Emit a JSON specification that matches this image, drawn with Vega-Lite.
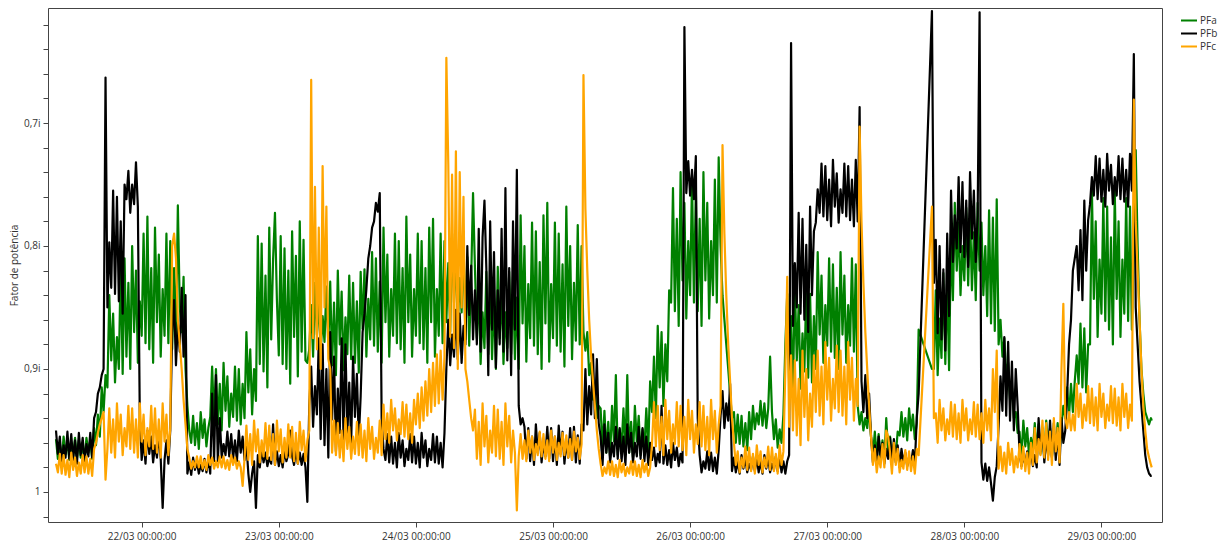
{
"$schema": "https://vega.github.io/schema/vega-lite/v6.json",
"width": 1114, "height": 514,
"autosize": {"type": "none"},
"padding": {"left": 48, "top": 8, "right": 68, "bottom": 24},
"config": {"font": "Open Sans", "view": {"stroke": "#444", "strokeWidth": 1},
 "axis": {"domain": false, "grid": false, "tickColor": "#444", "labelColor": "#333", "labelFontSize": 10, "tickSize": 5, "titleColor": "#333", "titleFontSize": 10, "titleFontWeight": "normal"}},
"data": {"values": [
{"t":9,"a":0.957,"b":0.95,"c":0.977},{"t":9.33,"a":0.973,"b":0.969,"c":0.984},{"t":9.67,"a":0.961,"b":0.955,"c":0.969},{"t":10,"a":0.975,"b":0.976,"c":0.985},
{"t":10.33,"a":0.955,"b":0.962,"c":0.97},{"t":10.67,"a":0.969,"b":0.972,"c":0.986},{"t":11,"a":0.959,"b":0.951,"c":0.974},{"t":11.33,"a":0.974,"b":0.973,"c":0.988},
{"t":11.67,"a":0.964,"b":0.953,"c":0.968},{"t":12,"a":0.971,"b":0.974,"c":0.982},{"t":12.33,"a":0.956,"b":0.958,"c":0.972},{"t":12.67,"a":0.972,"b":0.977,"c":0.987},
{"t":13,"a":0.958,"b":0.952,"c":0.976},{"t":13.33,"a":0.972,"b":0.97,"c":0.985},{"t":13.67,"a":0.96,"b":0.956,"c":0.97},{"t":14,"a":0.974,"b":0.975,"c":0.984},
{"t":14.33,"a":0.956,"b":0.961,"c":0.971},{"t":14.67,"a":0.968,"b":0.971,"c":0.985},{"t":15,"a":0.958,"b":0.952,"c":0.973},{"t":15.33,"a":0.973,"b":0.972,"c":0.987},
{"t":15.67,"a":0.948,"b":0.94,"c":0.965},{"t":16,"a":0.962,"b":0.935,"c":0.96},{"t":16.33,"a":0.937,"b":0.92,"c":0.952},{"t":16.67,"a":0.955,"b":0.915,"c":0.945},
{"t":17,"a":0.915,"b":0.905,"c":0.94},{"t":17.33,"a":0.935,"b":0.9,"c":0.935},{"t":17.67,"a":0.905,"b":0.663,"c":0.99},{"t":18,"a":0.915,"b":0.85,"c":0.965},
{"t":18.33,"a":0.84,"b":0.797,"c":0.932},{"t":18.67,"a":0.893,"b":0.834,"c":0.968},{"t":19,"a":0.855,"b":0.755,"c":0.941},{"t":19.33,"a":0.911,"b":0.839,"c":0.972},
{"t":19.67,"a":0.874,"b":0.76,"c":0.928},{"t":20,"a":0.9,"b":0.845,"c":0.959},{"t":20.33,"a":0.812,"b":0.78,"c":0.937},{"t":20.67,"a":0.904,"b":0.855,"c":0.97},
{"t":21,"a":0.81,"b":0.75,"c":0.948},{"t":21.33,"a":0.89,"b":0.762,"c":0.963},{"t":21.67,"a":0.83,"b":0.739,"c":0.93},{"t":22,"a":0.9,"b":0.773,"c":0.965},
{"t":22.33,"a":0.8,"b":0.75,"c":0.932},{"t":22.67,"a":0.87,"b":0.766,"c":0.968},{"t":23,"a":0.82,"b":0.732,"c":0.941},{"t":23.33,"a":0.895,"b":0.768,"c":0.972},
{"t":23.67,"a":0.845,"b":0.94,"c":0.928},{"t":24,"a":0.873,"b":0.974,"c":0.959},{"t":24.33,"a":0.79,"b":0.958,"c":0.937},{"t":24.67,"a":0.879,"b":0.977,"c":0.97},
{"t":25,"a":0.776,"b":0.95,"c":0.948},{"t":25.33,"a":0.884,"b":0.969,"c":0.963},{"t":25.67,"a":0.818,"b":0.955,"c":0.93},{"t":26,"a":0.895,"b":0.976,"c":0.965},
{"t":26.33,"a":0.785,"b":0.962,"c":0.932},{"t":26.67,"a":0.862,"b":0.972,"c":0.968},{"t":27,"a":0.807,"b":0.951,"c":0.941},{"t":27.33,"a":0.89,"b":0.973,"c":0.972},
{"t":27.67,"a":0.835,"b":1.013,"c":0.928},{"t":28,"a":0.873,"b":0.974,"c":0.959},{"t":28.33,"a":0.79,"b":0.958,"c":0.937},{"t":28.67,"a":0.879,"b":0.977,"c":0.97},
{"t":29,"a":0.796,"b":0.95,"c":0.948},{"t":29.33,"a":0.884,"b":0.87,"c":0.8},{"t":29.67,"a":0.818,"b":0.844,"c":0.79},{"t":30,"a":0.88,"b":0.897,"c":0.81},
{"t":30.33,"a":0.767,"b":0.862,"c":0.86},{"t":30.67,"a":0.85,"b":0.886,"c":0.88},{"t":31,"a":0.87,"b":0.834,"c":0.9},{"t":31.33,"a":0.825,"b":0.89,"c":0.925},
{"t":31.67,"a":0.9,"b":0.84,"c":0.945},{"t":32,"a":0.93,"b":0.985,"c":0.965},{"t":32.33,"a":0.95,"b":0.976,"c":0.972},{"t":32.67,"a":0.96,"b":0.986,"c":0.981},
{"t":33,"a":0.938,"b":0.972,"c":0.975},{"t":33.33,"a":0.962,"b":0.982,"c":0.98},{"t":33.67,"a":0.944,"b":0.975,"c":0.971},{"t":34,"a":0.965,"b":0.985,"c":0.98},
{"t":34.33,"a":0.935,"b":0.978,"c":0.971},{"t":34.67,"a":0.956,"b":0.983,"c":0.981},{"t":35,"a":0.941,"b":0.973,"c":0.974},{"t":35.33,"a":0.963,"b":0.984,"c":0.982},
{"t":35.67,"a":0.948,"b":0.973,"c":0.97},{"t":36,"a":0.939,"b":0.985,"c":0.978},{"t":36.33,"a":0.898,"b":0.92,"c":0.972},{"t":36.67,"a":0.942,"b":0.975,"c":0.981},
{"t":37,"a":0.9,"b":0.905,"c":0.975},{"t":37.33,"a":0.945,"b":0.975,"c":0.98},{"t":37.67,"a":0.912,"b":0.94,"c":0.971},{"t":38,"a":0.95,"b":0.972,"c":0.98},
{"t":38.33,"a":0.895,"b":0.961,"c":0.971},{"t":38.67,"a":0.934,"b":0.97,"c":0.981},{"t":39,"a":0.906,"b":0.951,"c":0.974},{"t":39.33,"a":0.947,"b":0.971,"c":0.982},
{"t":39.67,"a":0.92,"b":0.953,"c":0.97},{"t":40,"a":0.939,"b":0.973,"c":0.978},{"t":40.33,"a":0.898,"b":0.958,"c":0.972},{"t":40.67,"a":0.942,"b":0.975,"c":0.981},
{"t":41,"a":0.9,"b":0.95,"c":0.975},{"t":41.33,"a":0.945,"b":0.968,"c":0.98},{"t":41.67,"a":0.912,"b":0.955,"c":0.995},{"t":42,"a":0.94,"b":0.974,"c":0.973},
{"t":42.33,"a":0.87,"b":0.961,"c":0.946},{"t":42.67,"a":0.919,"b":0.985,"c":0.974},{"t":43,"a":0.884,"b":1.0,"c":0.953},{"t":43.33,"a":0.937,"b":0.985,"c":0.978},
{"t":43.67,"a":0.9,"b":0.975,"c":0.942},{"t":44,"a":0.926,"b":1.013,"c":0.967},{"t":44.33,"a":0.792,"b":0.97,"c":0.949},{"t":44.67,"a":0.896,"b":0.98,"c":0.976},
{"t":45,"a":0.798,"b":0.965,"c":0.958},{"t":45.33,"a":0.902,"b":0.976,"c":0.971},{"t":45.67,"a":0.824,"b":0.968,"c":0.944},{"t":46,"a":0.915,"b":0.979,"c":0.973},
{"t":46.33,"a":0.785,"b":0.972,"c":0.946},{"t":46.67,"a":0.876,"b":0.977,"c":0.974},{"t":47,"a":0.811,"b":0.945,"c":0.953},{"t":47.33,"a":0.773,"b":0.978,"c":0.978},
{"t":47.67,"a":0.844,"b":0.967,"c":0.942},{"t":48,"a":0.889,"b":0.979,"c":0.967},{"t":48.33,"a":0.792,"b":0.97,"c":0.949},{"t":48.67,"a":0.896,"b":0.98,"c":0.976},
{"t":49,"a":0.802,"b":0.966,"c":0.956},{"t":49.33,"a":0.9,"b":0.975,"c":0.972},{"t":49.67,"a":0.82,"b":0.969,"c":0.945},{"t":50,"a":0.912,"b":0.95,"c":0.972},
{"t":50.33,"a":0.788,"b":0.971,"c":0.947},{"t":50.67,"a":0.874,"b":0.978,"c":0.975},{"t":51,"a":0.808,"b":0.966,"c":0.952},{"t":51.33,"a":0.906,"b":0.977,"c":0.977},
{"t":51.67,"a":0.78,"b":0.968,"c":0.943},{"t":52,"a":0.886,"b":0.978,"c":0.966},{"t":52.33,"a":0.795,"b":0.969,"c":0.95},{"t":52.67,"a":0.893,"b":0.98,"c":0.975},
{"t":53,"a":0.895,"b":1.008,"c":0.958},{"t":53.33,"a":0.884,"b":0.93,"c":0.95},{"t":53.67,"a":0.848,"b":0.898,"c":0.665},{"t":54,"a":0.89,"b":0.947,"c":0.875},
{"t":54.33,"a":0.83,"b":0.914,"c":0.752},{"t":54.67,"a":0.872,"b":0.937,"c":0.884},{"t":55,"a":0.842,"b":0.875,"c":0.785},{"t":55.33,"a":0.887,"b":0.957,"c":0.9},
{"t":55.67,"a":0.857,"b":0.88,"c":0.735},{"t":56,"a":0.878,"b":0.962,"c":0.85},{"t":56.33,"a":0.833,"b":0.9,"c":0.768},{"t":56.67,"a":0.881,"b":0.972,"c":0.892},
{"t":57,"a":0.829,"b":0.87,"c":0.9},{"t":57.33,"a":0.897,"b":0.941,"c":0.968},{"t":57.67,"a":0.846,"b":0.89,"c":0.942},{"t":58,"a":0.905,"b":0.967,"c":0.97},
{"t":58.33,"a":0.82,"b":0.916,"c":0.944},{"t":58.67,"a":0.88,"b":0.952,"c":0.972},{"t":59,"a":0.837,"b":0.875,"c":0.95},{"t":59.33,"a":0.901,"b":0.957,"c":0.975},
{"t":59.67,"a":0.858,"b":0.88,"c":0.94},{"t":60,"a":0.888,"b":0.953,"c":0.965},{"t":60.33,"a":0.824,"b":0.911,"c":0.947},{"t":60.67,"a":0.892,"b":0.96,"c":0.973},
{"t":61,"a":0.83,"b":0.89,"c":0.955},{"t":61.33,"a":0.895,"b":0.939,"c":0.969},{"t":61.67,"a":0.845,"b":0.904,"c":0.943},{"t":62,"a":0.903,"b":0.957,"c":0.97},
{"t":62.33,"a":0.821,"b":0.922,"c":0.945},{"t":62.67,"a":0.867,"b":0.87,"c":0.972},{"t":63,"a":0.819,"b":0.855,"c":0.95},{"t":63.33,"a":0.89,"b":0.835,"c":0.975},
{"t":63.67,"a":0.843,"b":0.81,"c":0.94},{"t":64,"a":0.876,"b":0.8,"c":0.965},{"t":64.33,"a":0.805,"b":0.785,"c":0.947},{"t":64.67,"a":0.881,"b":0.78,"c":0.973},
{"t":65,"a":0.81,"b":0.765,"c":0.956},{"t":65.33,"a":0.886,"b":0.772,"c":0.968},{"t":65.67,"a":0.829,"b":0.757,"c":0.942},{"t":66,"a":0.895,"b":0.94,"c":0.97},
{"t":66.33,"a":0.785,"b":0.965,"c":0.929},{"t":66.67,"a":0.862,"b":0.974,"c":0.957},{"t":67,"a":0.807,"b":0.953,"c":0.936},{"t":67.33,"a":0.89,"b":0.976,"c":0.96},
{"t":67.67,"a":0.835,"b":0.955,"c":0.925},{"t":68,"a":0.873,"b":0.977,"c":0.95},{"t":68.33,"a":0.79,"b":0.96,"c":0.932},{"t":68.67,"a":0.879,"b":0.98,"c":0.958},
{"t":69,"a":0.796,"b":0.952,"c":0.941},{"t":69.33,"a":0.884,"b":0.972,"c":0.953},{"t":69.67,"a":0.818,"b":0.958,"c":0.927},{"t":70,"a":0.895,"b":0.979,"c":0.955},
{"t":70.33,"a":0.776,"b":0.965,"c":0.929},{"t":70.67,"a":0.862,"b":0.974,"c":0.957},{"t":71,"a":0.807,"b":0.953,"c":0.936},{"t":71.33,"a":0.89,"b":0.976,"c":0.96},
{"t":71.67,"a":0.835,"b":0.955,"c":0.925},{"t":72,"a":0.873,"b":0.977,"c":0.945},{"t":72.33,"a":0.79,"b":0.96,"c":0.92},{"t":72.67,"a":0.879,"b":0.98,"c":0.948},
{"t":73,"a":0.796,"b":0.952,"c":0.915},{"t":73.33,"a":0.884,"b":0.972,"c":0.942},{"t":73.67,"a":0.818,"b":0.958,"c":0.91},{"t":74,"a":0.895,"b":0.979,"c":0.938},
{"t":74.33,"a":0.785,"b":0.965,"c":0.9},{"t":74.67,"a":0.862,"b":0.974,"c":0.935},{"t":75,"a":0.778,"b":0.953,"c":0.895},{"t":75.33,"a":0.89,"b":0.976,"c":0.93},
{"t":75.67,"a":0.835,"b":0.955,"c":0.888},{"t":76,"a":0.873,"b":0.977,"c":0.928},{"t":76.33,"a":0.79,"b":0.96,"c":0.885},{"t":76.67,"a":0.879,"b":0.98,"c":0.925},
{"t":77,"a":0.796,"b":0.952,"c":0.89},{"t":77.33,"a":0.862,"b":0.9,"c":0.647},{"t":77.67,"a":0.814,"b":0.86,"c":0.734},{"t":78,"a":0.87,"b":0.897,"c":0.874},
{"t":78.33,"a":0.79,"b":0.872,"c":0.742},{"t":78.67,"a":0.846,"b":0.89,"c":0.883},{"t":79,"a":0.806,"b":0.852,"c":0.723},{"t":79.33,"a":0.866,"b":0.892,"c":0.9},
{"t":79.67,"a":0.826,"b":0.855,"c":0.74},{"t":80,"a":0.854,"b":0.895,"c":0.85},{"t":80.33,"a":0.794,"b":0.865,"c":0.76},{"t":80.67,"a":0.876,"b":0.88,"c":0.9},
{"t":81,"a":0.809,"b":0.8,"c":0.91},{"t":81.33,"a":0.881,"b":0.856,"c":0.925},{"t":81.67,"a":0.827,"b":0.816,"c":0.94},{"t":82,"a":0.757,"b":0.876,"c":0.95},
{"t":82.33,"a":0.817,"b":0.836,"c":0.933},{"t":82.67,"a":0.875,"b":0.88,"c":0.973},{"t":83,"a":0.834,"b":0.786,"c":0.943},{"t":83.33,"a":0.896,"b":0.886,"c":0.978},
{"t":83.67,"a":0.854,"b":0.793,"c":0.928},{"t":84,"a":0.883,"b":0.763,"c":0.963},{"t":84.33,"a":0.821,"b":0.818,"c":0.938},{"t":84.67,"a":0.888,"b":0.905,"c":0.976},
{"t":85,"a":0.825,"b":0.78,"c":0.95},{"t":85.33,"a":0.892,"b":0.868,"c":0.968},{"t":85.67,"a":0.842,"b":0.805,"c":0.93},{"t":86,"a":0.9,"b":0.899,"c":0.971},
{"t":86.33,"a":0.817,"b":0.836,"c":0.933},{"t":86.67,"a":0.875,"b":0.88,"c":0.973},{"t":87,"a":0.834,"b":0.786,"c":0.943},{"t":87.33,"a":0.896,"b":0.886,"c":0.978},
{"t":87.67,"a":0.854,"b":0.753,"c":0.928},{"t":88,"a":0.883,"b":0.893,"c":0.963},{"t":88.33,"a":0.821,"b":0.818,"c":0.938},{"t":88.67,"a":0.888,"b":0.905,"c":0.976},
{"t":89,"a":0.825,"b":0.78,"c":0.95},{"t":89.33,"a":0.892,"b":0.868,"c":0.968},{"t":89.67,"a":0.842,"b":0.738,"c":1.015},{"t":90,"a":0.9,"b":0.93,"c":0.971},
{"t":90.33,"a":0.775,"b":0.945,"c":0.953},{"t":90.67,"a":0.863,"b":0.94,"c":0.973},{"t":91,"a":0.8,"b":0.947,"c":0.958},{"t":91.33,"a":0.894,"b":0.973,"c":0.975},
{"t":91.67,"a":0.831,"b":0.948,"c":0.95},{"t":92,"a":0.875,"b":0.975,"c":0.968},{"t":92.33,"a":0.781,"b":0.955,"c":0.955},{"t":92.67,"a":0.881,"b":0.978,"c":0.974},
{"t":93,"a":0.788,"b":0.945,"c":0.961},{"t":93.33,"a":0.888,"b":0.968,"c":0.97},{"t":93.67,"a":0.813,"b":0.952,"c":0.951},{"t":94,"a":0.9,"b":0.976,"c":0.971},
{"t":94.33,"a":0.775,"b":0.96,"c":0.953},{"t":94.67,"a":0.863,"b":0.971,"c":0.973},{"t":95,"a":0.765,"b":0.947,"c":0.958},{"t":95.33,"a":0.894,"b":0.973,"c":0.975},
{"t":95.67,"a":0.831,"b":0.948,"c":0.95},{"t":96,"a":0.875,"b":0.975,"c":0.968},{"t":96.33,"a":0.781,"b":0.955,"c":0.955},{"t":96.67,"a":0.881,"b":0.978,"c":0.974},
{"t":97,"a":0.79,"b":0.946,"c":0.96},{"t":97.33,"a":0.886,"b":0.969,"c":0.971},{"t":97.67,"a":0.815,"b":0.951,"c":0.952},{"t":98,"a":0.898,"b":0.977,"c":0.97},
{"t":98.33,"a":0.768,"b":0.959,"c":0.954},{"t":98.67,"a":0.865,"b":0.972,"c":0.972},{"t":99,"a":0.8,"b":0.948,"c":0.957},{"t":99.33,"a":0.892,"b":0.974,"c":0.974},
{"t":99.67,"a":0.83,"b":0.947,"c":0.951},{"t":100,"a":0.877,"b":0.976,"c":0.967},{"t":100.33,"a":0.783,"b":0.954,"c":0.956},{"t":100.67,"a":0.88,"b":0.977,"c":0.973},
{"t":101,"a":0.8,"b":0.945,"c":0.961},{"t":101.33,"a":0.87,"b":0.95,"c":0.661},{"t":101.67,"a":0.885,"b":0.9,"c":0.77},{"t":102,"a":0.87,"b":0.945,"c":0.82},
{"t":102.33,"a":0.905,"b":0.914,"c":0.86},{"t":102.67,"a":0.895,"b":0.937,"c":0.89},{"t":103,"a":0.925,"b":0.888,"c":0.91},{"t":103.33,"a":0.915,"b":0.94,"c":0.93},
{"t":103.67,"a":0.94,"b":0.892,"c":0.95},{"t":104,"a":0.93,"b":0.944,"c":0.965},{"t":104.33,"a":0.932,"b":0.955,"c":0.977},{"t":104.67,"a":0.966,"b":0.978,"c":0.987},
{"t":105,"a":0.934,"b":0.945,"c":0.98},{"t":105.33,"a":0.968,"b":0.968,"c":0.985},{"t":105.67,"a":0.943,"b":0.952,"c":0.975},{"t":106,"a":0.972,"b":0.976,"c":0.986},
{"t":106.33,"a":0.93,"b":0.96,"c":0.975},{"t":106.67,"a":0.959,"b":0.971,"c":0.987},{"t":107,"a":0.905,"b":0.947,"c":0.978},{"t":107.33,"a":0.97,"b":0.973,"c":0.988},
{"t":107.67,"a":0.949,"b":0.948,"c":0.974},{"t":108,"a":0.964,"b":0.975,"c":0.984},{"t":108.33,"a":0.932,"b":0.955,"c":0.977},{"t":108.67,"a":0.966,"b":0.978,"c":0.987},
{"t":109,"a":0.905,"b":0.945,"c":0.98},{"t":109.33,"a":0.968,"b":0.968,"c":0.985},{"t":109.67,"a":0.943,"b":0.952,"c":0.975},{"t":110,"a":0.972,"b":0.976,"c":0.986},
{"t":110.33,"a":0.93,"b":0.96,"c":0.975},{"t":110.67,"a":0.959,"b":0.971,"c":0.987},{"t":111,"a":0.938,"b":0.947,"c":0.978},{"t":111.33,"a":0.97,"b":0.973,"c":0.988},
{"t":111.67,"a":0.949,"b":0.948,"c":0.974},{"t":112,"a":0.964,"b":0.975,"c":0.984},{"t":112.33,"a":0.932,"b":0.955,"c":0.977},{"t":112.67,"a":0.966,"b":0.978,"c":0.987},
{"t":113,"a":0.91,"b":0.96,"c":0.98},{"t":113.33,"a":0.935,"b":0.974,"c":0.961},{"t":113.67,"a":0.89,"b":0.964,"c":0.927},{"t":114,"a":0.94,"b":0.979,"c":0.963},
{"t":114.33,"a":0.865,"b":0.969,"c":0.93},{"t":114.67,"a":0.915,"b":0.976,"c":0.966},{"t":115,"a":0.87,"b":0.93,"c":0.939},{"t":115.33,"a":0.93,"b":0.977,"c":0.97},
{"t":115.67,"a":0.88,"b":0.962,"c":0.925},{"t":116,"a":0.91,"b":0.978,"c":0.957},{"t":116.33,"a":0.836,"b":0.966,"c":0.934},{"t":116.67,"a":0.846,"b":0.98,"c":0.968},
{"t":117,"a":0.753,"b":0.96,"c":0.945},{"t":117.33,"a":0.853,"b":0.974,"c":0.961},{"t":117.67,"a":0.778,"b":0.964,"c":0.927},{"t":118,"a":0.865,"b":0.979,"c":0.963},
{"t":118.33,"a":0.74,"b":0.969,"c":0.93},{"t":118.67,"a":0.828,"b":0.976,"c":0.966},{"t":119,"a":0.765,"b":0.622,"c":0.939},{"t":119.33,"a":0.859,"b":0.757,"c":0.97},
{"t":119.67,"a":0.796,"b":0.731,"c":0.925},{"t":120,"a":0.84,"b":0.759,"c":0.957},{"t":120.33,"a":0.746,"b":0.738,"c":0.934},{"t":120.67,"a":0.846,"b":0.762,"c":0.968},
{"t":121,"a":0.753,"b":0.727,"c":0.945},{"t":121.33,"a":0.853,"b":0.94,"c":0.961},{"t":121.67,"a":0.778,"b":0.97,"c":0.927},{"t":122,"a":0.865,"b":0.984,"c":0.963},
{"t":122.33,"a":0.74,"b":0.975,"c":0.93},{"t":122.67,"a":0.828,"b":0.981,"c":0.966},{"t":123,"a":0.765,"b":0.967,"c":0.939},{"t":123.33,"a":0.859,"b":0.982,"c":0.97},
{"t":123.67,"a":0.796,"b":0.968,"c":0.925},{"t":124,"a":0.84,"b":0.983,"c":0.957},{"t":124.33,"a":0.746,"b":0.972,"c":0.934},{"t":124.67,"a":0.846,"b":0.985,"c":0.968},
{"t":125,"a":0.728,"b":0.966,"c":0.945},{"t":125.33,"a":0.8,"b":0.938,"c":0.93},{"t":125.67,"a":0.84,"b":0.918,"c":0.718},{"t":126,"a":0.86,"b":0.948,"c":0.79},
{"t":126.33,"a":0.88,"b":0.928,"c":0.84},{"t":126.67,"a":0.9,"b":0.942,"c":0.88},{"t":127,"a":0.92,"b":0.912,"c":0.91},{"t":127.33,"a":0.94,"b":0.983,"c":0.94},
{"t":127.67,"a":0.935,"b":0.972,"c":0.96},{"t":128,"a":0.96,"b":0.984,"c":0.978},{"t":128.33,"a":0.937,"b":0.975,"c":0.967},{"t":128.67,"a":0.961,"b":0.985,"c":0.984},
{"t":129,"a":0.938,"b":0.97,"c":0.972},{"t":129.33,"a":0.963,"b":0.981,"c":0.98},{"t":129.67,"a":0.944,"b":0.973,"c":0.963},{"t":130,"a":0.966,"b":0.984,"c":0.982},
{"t":130.33,"a":0.935,"b":0.977,"c":0.964},{"t":130.67,"a":0.957,"b":0.982,"c":0.983},{"t":131,"a":0.93,"b":0.971,"c":0.969},{"t":131.33,"a":0.949,"b":0.983,"c":0.985},
{"t":131.67,"a":0.936,"b":0.972,"c":0.962},{"t":132,"a":0.945,"b":0.984,"c":0.978},{"t":132.33,"a":0.926,"b":0.975,"c":0.967},{"t":132.67,"a":0.946,"b":0.985,"c":0.984},
{"t":133,"a":0.928,"b":0.97,"c":0.972},{"t":133.33,"a":0.948,"b":0.981,"c":0.98},{"t":133.67,"a":0.932,"b":0.973,"c":0.963},{"t":134,"a":0.89,"b":0.984,"c":0.982},
{"t":134.33,"a":0.935,"b":0.977,"c":0.964},{"t":134.67,"a":0.957,"b":0.982,"c":0.983},{"t":135,"a":0.941,"b":0.971,"c":0.969},{"t":135.33,"a":0.964,"b":0.983,"c":0.985},
{"t":135.67,"a":0.949,"b":0.972,"c":0.962},{"t":136,"a":0.96,"b":0.984,"c":0.978},{"t":136.33,"a":0.937,"b":0.975,"c":0.967},{"t":136.67,"a":0.88,"b":0.985,"c":0.9},
{"t":137,"a":0.839,"b":0.975,"c":0.825},{"t":137.33,"a":0.911,"b":0.97,"c":0.947},{"t":137.67,"a":0.857,"b":0.635,"c":0.889},{"t":138,"a":0.92,"b":0.865,"c":0.95},
{"t":138.33,"a":0.83,"b":0.814,"c":0.893},{"t":138.67,"a":0.893,"b":0.85,"c":0.954},{"t":139,"a":0.848,"b":0.773,"c":0.908},{"t":139.33,"a":0.916,"b":0.855,"c":0.962},
{"t":139.67,"a":0.871,"b":0.778,"c":0.885},{"t":140,"a":0.902,"b":0.86,"c":0.939},{"t":140.33,"a":0.835,"b":0.799,"c":0.9},{"t":140.67,"a":0.907,"b":0.87,"c":0.958},
{"t":141,"a":0.839,"b":0.768,"c":0.92},{"t":141.33,"a":0.911,"b":0.84,"c":0.947},{"t":141.67,"a":0.857,"b":0.788,"c":0.889},{"t":142,"a":0.9,"b":0.781,"c":0.935},
{"t":142.33,"a":0.805,"b":0.754,"c":0.885},{"t":142.67,"a":0.872,"b":0.773,"c":0.938},{"t":143,"a":0.824,"b":0.733,"c":0.898},{"t":143.33,"a":0.895,"b":0.776,"c":0.945},
{"t":143.67,"a":0.848,"b":0.735,"c":0.878},{"t":144,"a":0.881,"b":0.779,"c":0.925},{"t":144.33,"a":0.81,"b":0.746,"c":0.891},{"t":144.67,"a":0.886,"b":0.784,"c":0.942},
{"t":145,"a":0.815,"b":0.73,"c":0.908},{"t":145.33,"a":0.891,"b":0.768,"c":0.932},{"t":145.67,"a":0.834,"b":0.741,"c":0.881},{"t":146,"a":0.9,"b":0.781,"c":0.935},
{"t":146.33,"a":0.805,"b":0.754,"c":0.885},{"t":146.67,"a":0.872,"b":0.773,"c":0.938},{"t":147,"a":0.824,"b":0.733,"c":0.898},{"t":147.33,"a":0.895,"b":0.776,"c":0.945},
{"t":147.67,"a":0.848,"b":0.735,"c":0.878},{"t":148,"a":0.881,"b":0.779,"c":0.925},{"t":148.33,"a":0.81,"b":0.746,"c":0.891},{"t":148.67,"a":0.886,"b":0.784,"c":0.942},
{"t":149,"a":0.815,"b":0.73,"c":0.908},{"t":149.33,"a":0.93,"b":0.78,"c":0.93},{"t":149.67,"a":0.945,"b":0.687,"c":0.703},{"t":150,"a":0.935,"b":0.91,"c":0.78},
{"t":150.33,"a":0.95,"b":0.935,"c":0.83},{"t":150.67,"a":0.94,"b":0.905,"c":0.87},{"t":151,"a":0.948,"b":0.94,"c":0.9},{"t":151.33,"a":0.932,"b":0.92,"c":0.93},
{"t":151.67,"a":0.955,"b":0.955,"c":0.955},{"t":152,"a":0.97,"b":0.976,"c":0.978},{"t":152.33,"a":0.951,"b":0.962,"c":0.965},{"t":152.67,"a":0.971,"b":0.978,"c":0.984},
{"t":153,"a":0.953,"b":0.955,"c":0.971},{"t":153.33,"a":0.973,"b":0.971,"c":0.98},{"t":153.67,"a":0.958,"b":0.96,"c":0.961},{"t":154,"a":0.975,"b":0.977,"c":0.98},
{"t":154.33,"a":0.94,"b":0.965,"c":0.95},{"t":154.67,"a":0.968,"b":0.973,"c":0.955},{"t":155,"a":0.955,"b":0.956,"c":0.968},{"t":155.33,"a":0.974,"b":0.975,"c":0.985},
{"t":155.67,"a":0.961,"b":0.957,"c":0.96},{"t":156,"a":0.97,"b":0.976,"c":0.978},{"t":156.33,"a":0.951,"b":0.962,"c":0.965},{"t":156.67,"a":0.954,"b":0.98,"c":0.984},
{"t":157,"a":0.935,"b":0.965,"c":0.974},{"t":157.33,"a":0.955,"b":0.976,"c":0.981},{"t":157.67,"a":0.94,"b":0.968,"c":0.966},{"t":158,"a":0.958,"b":0.979,"c":0.982},
{"t":158.33,"a":0.932,"b":0.972,"c":0.967},{"t":158.67,"a":0.95,"b":0.977,"c":0.983},{"t":159,"a":0.937,"b":0.966,"c":0.971},{"t":159.33,"a":0.957,"b":0.978,"c":0.985},
{"t":159.67,"a":0.944,"b":0.94,"c":0.965},{"t":160,"a":0.868,"b":0.92,"c":0.97},{"t":162.33,"a":0.9,"b":0.609,"c":0.768},{"t":162.67,"a":0.9,"b":0.83,"c":0.94},
{"t":163,"a":0.836,"b":0.795,"c":0.936},{"t":163.33,"a":0.905,"b":0.871,"c":0.96},{"t":163.67,"a":0.859,"b":0.8,"c":0.925},{"t":164,"a":0.891,"b":0.876,"c":0.95},
{"t":164.33,"a":0.822,"b":0.819,"c":0.932},{"t":164.67,"a":0.896,"b":0.885,"c":0.958},{"t":165,"a":0.826,"b":0.79,"c":0.941},{"t":165.33,"a":0.901,"b":0.857,"c":0.953},
{"t":165.67,"a":0.789,"b":0.755,"c":0.927},{"t":166,"a":0.844,"b":0.813,"c":0.955},{"t":166.33,"a":0.765,"b":0.775,"c":0.929},{"t":166.67,"a":0.82,"b":0.802,"c":0.957},
{"t":167,"a":0.781,"b":0.744,"c":0.936},{"t":167.33,"a":0.84,"b":0.805,"c":0.96},{"t":167.67,"a":0.8,"b":0.748,"c":0.925},{"t":168,"a":0.828,"b":0.809,"c":0.95},
{"t":168.33,"a":0.769,"b":0.763,"c":0.932},{"t":168.67,"a":0.832,"b":0.817,"c":0.958},{"t":169,"a":0.773,"b":0.74,"c":0.941},{"t":169.33,"a":0.836,"b":0.794,"c":0.953},
{"t":169.67,"a":0.789,"b":0.755,"c":0.927},{"t":170,"a":0.844,"b":0.813,"c":0.955},{"t":170.33,"a":0.765,"b":0.775,"c":0.929},{"t":170.67,"a":0.82,"b":0.61,"c":0.957},
{"t":171,"a":0.781,"b":0.976,"c":0.936},{"t":171.33,"a":0.84,"b":0.99,"c":0.96},{"t":171.67,"a":0.8,"b":0.977,"c":0.925},{"t":172,"a":0.857,"b":0.991,"c":0.95},
{"t":172.33,"a":0.771,"b":0.98,"c":0.932},{"t":172.67,"a":0.863,"b":0.993,"c":0.958},{"t":173,"a":0.777,"b":1.007,"c":0.9},{"t":173.33,"a":0.869,"b":0.988,"c":0.935},
{"t":173.67,"a":0.762,"b":0.979,"c":0.885},{"t":174,"a":0.88,"b":0.946,"c":0.981},{"t":174.33,"a":0.86,"b":0.906,"c":0.963},{"t":174.67,"a":0.89,"b":0.934,"c":0.983},
{"t":175,"a":0.875,"b":0.874,"c":0.968},{"t":175.33,"a":0.905,"b":0.938,"c":0.985},{"t":175.67,"a":0.895,"b":0.878,"c":0.96},{"t":176,"a":0.925,"b":0.942,"c":0.978},
{"t":176.33,"a":0.915,"b":0.894,"c":0.965},{"t":176.67,"a":0.94,"b":0.95,"c":0.984},{"t":177,"a":0.935,"b":0.9,"c":0.971},{"t":177.33,"a":0.952,"b":0.93,"c":0.98},
{"t":177.67,"a":0.951,"b":0.969,"c":0.961},{"t":178,"a":0.972,"b":0.979,"c":0.981},{"t":178.33,"a":0.942,"b":0.972,"c":0.963},{"t":178.67,"a":0.963,"b":0.977,"c":0.983},
{"t":179,"a":0.948,"b":0.967,"c":0.968},{"t":179.33,"a":0.971,"b":0.978,"c":0.985},{"t":179.67,"a":0.956,"b":0.967,"c":0.96},{"t":180,"a":0.966,"b":0.979,"c":0.978},
{"t":180.33,"a":0.944,"b":0.97,"c":0.948},{"t":180.67,"a":0.968,"b":0.98,"c":0.976},{"t":181,"a":0.945,"b":0.94,"c":0.957},{"t":181.33,"a":0.969,"b":0.967,"c":0.97},
{"t":181.67,"a":0.951,"b":0.948,"c":0.942},{"t":182,"a":0.972,"b":0.976,"c":0.972},{"t":182.33,"a":0.942,"b":0.957,"c":0.944},{"t":182.67,"a":0.963,"b":0.97,"c":0.974},
{"t":183,"a":0.948,"b":0.942,"c":0.951},{"t":183.33,"a":0.971,"b":0.972,"c":0.978},{"t":183.67,"a":0.956,"b":0.944,"c":0.94},{"t":184,"a":0.966,"b":0.974,"c":0.967},
{"t":184.33,"a":0.944,"b":0.951,"c":0.948},{"t":184.67,"a":0.968,"b":0.978,"c":0.976},{"t":185,"a":0.945,"b":0.94,"c":0.9},{"t":185.33,"a":0.93,"b":0.96,"c":0.847},
{"t":185.67,"a":0.94,"b":0.95,"c":0.94},{"t":186,"a":0.915,"b":0.92,"c":0.948},{"t":186.33,"a":0.938,"b":0.88,"c":0.935},{"t":186.67,"a":0.912,"b":0.86,"c":0.95},
{"t":187,"a":0.935,"b":0.82,"c":0.937},{"t":187.33,"a":0.91,"b":0.81,"c":0.95},{"t":187.67,"a":0.889,"b":0.8,"c":0.912},{"t":188,"a":0.912,"b":0.836,"c":0.939},
{"t":188.33,"a":0.863,"b":0.787,"c":0.92},{"t":188.67,"a":0.915,"b":0.844,"c":0.948},{"t":189,"a":0.867,"b":0.763,"c":0.929},{"t":189.33,"a":0.919,"b":0.82,"c":0.942},
{"t":189.67,"a":0.88,"b":0.779,"c":0.914},{"t":190,"a":0.88,"b":0.766,"c":0.944},{"t":190.33,"a":0.755,"b":0.744,"c":0.916},{"t":190.67,"a":0.843,"b":0.759,"c":0.946},
{"t":191,"a":0.78,"b":0.727,"c":0.923},{"t":191.33,"a":0.874,"b":0.762,"c":0.95},{"t":191.67,"a":0.811,"b":0.729,"c":0.912},{"t":192,"a":0.855,"b":0.764,"c":0.939},
{"t":192.33,"a":0.761,"b":0.738,"c":0.92},{"t":192.67,"a":0.861,"b":0.768,"c":0.948},{"t":193,"a":0.768,"b":0.725,"c":0.929},{"t":193.33,"a":0.868,"b":0.755,"c":0.942},
{"t":193.67,"a":0.793,"b":0.734,"c":0.914},{"t":194,"a":0.88,"b":0.766,"c":0.944},{"t":194.33,"a":0.755,"b":0.744,"c":0.916},{"t":194.67,"a":0.843,"b":0.759,"c":0.946},
{"t":195,"a":0.78,"b":0.727,"c":0.923},{"t":195.33,"a":0.874,"b":0.762,"c":0.95},{"t":195.67,"a":0.811,"b":0.729,"c":0.912},{"t":196,"a":0.855,"b":0.764,"c":0.939},
{"t":196.33,"a":0.761,"b":0.738,"c":0.92},{"t":196.67,"a":0.861,"b":0.768,"c":0.948},{"t":197,"a":0.768,"b":0.725,"c":0.929},{"t":197.33,"a":0.868,"b":0.755,"c":0.942},
{"t":197.67,"a":0.8,"b":0.644,"c":0.681},{"t":198,"a":0.722,"b":0.85,"c":0.78},{"t":198.33,"a":0.8,"b":0.88,"c":0.82},{"t":198.67,"a":0.86,"b":0.91,"c":0.86},
{"t":199,"a":0.9,"b":0.93,"c":0.9},{"t":199.33,"a":0.92,"b":0.95,"c":0.93},{"t":199.67,"a":0.935,"b":0.97,"c":0.95},{"t":200,"a":0.94,"b":0.98,"c":0.965},
{"t":200.33,"a":0.945,"b":0.985,"c":0.972},{"t":200.67,"a":0.94,"b":0.987,"c":0.978},{"t":200.8,"a":0.942,"b":0.987,"c":0.98}
]},
"transform": [{"fold": ["a", "b", "c"], "as": ["serie", "valor"]}],
"encoding": {
 "x": {"field": "t", "type": "quantitative", "scale": {"domain": [7.6, 202.6], "nice": false, "zero": false},
  "axis": {"values": [24, 48, 72, 96, 120, 144, 168, 192], "labelExpr": "(21 + round(datum.value/24)) + '/03 00:00:00'", "title": null, "labelPadding": 4}},
 "y": {"field": "valor", "type": "quantitative", "scale": {"domain": [0.6065, 1.0244], "reverse": true, "nice": false, "zero": false},
  "axis": {"values": [0.62, 0.64, 0.66, 0.68, 0.7, 0.72, 0.74, 0.76, 0.78, 0.8, 0.82, 0.84, 0.86, 0.88, 0.9, 0.92, 0.94, 0.96, 0.98, 1.0, 1.02],
   "labelExpr": "abs(datum.value - 1) < 0.001 ? '1' : (abs(datum.value*10 - round(datum.value*10)) < 0.001 ? '0,' + round(datum.value*10) + 'i' : '')",
   "title": "Fator de potência", "titlePadding": 4, "labelPadding": 3}},
 "color": {"field": "serie", "type": "nominal", "scale": {"domain": ["a", "b", "c"], "range": ["#008000", "#000000", "#FFA500"]},
  "legend": {"title": null, "orient": "none", "legendX": 1132, "legendY": 6, "symbolType": "stroke", "symbolSize": 256, "symbolStrokeWidth": 2, "labelFontSize": 10, "labelColor": "#333", "labelOffset": 2, "clipHeight": 13, "rowPadding": 0, "padding": 0, "labelExpr": "'PF' + datum.label"}}
},
"layer": [
 {"transform": [{"filter": "datum.serie == 'a'"}], "mark": {"type": "line", "strokeWidth": 2.2, "strokeJoin": "round", "clip": true}},
 {"transform": [{"filter": "datum.serie == 'b'"}], "mark": {"type": "line", "strokeWidth": 2.2, "strokeJoin": "round", "clip": true}},
 {"transform": [{"filter": "datum.serie == 'c'"}], "mark": {"type": "line", "strokeWidth": 2.2, "strokeJoin": "round", "clip": true}}
]
}
